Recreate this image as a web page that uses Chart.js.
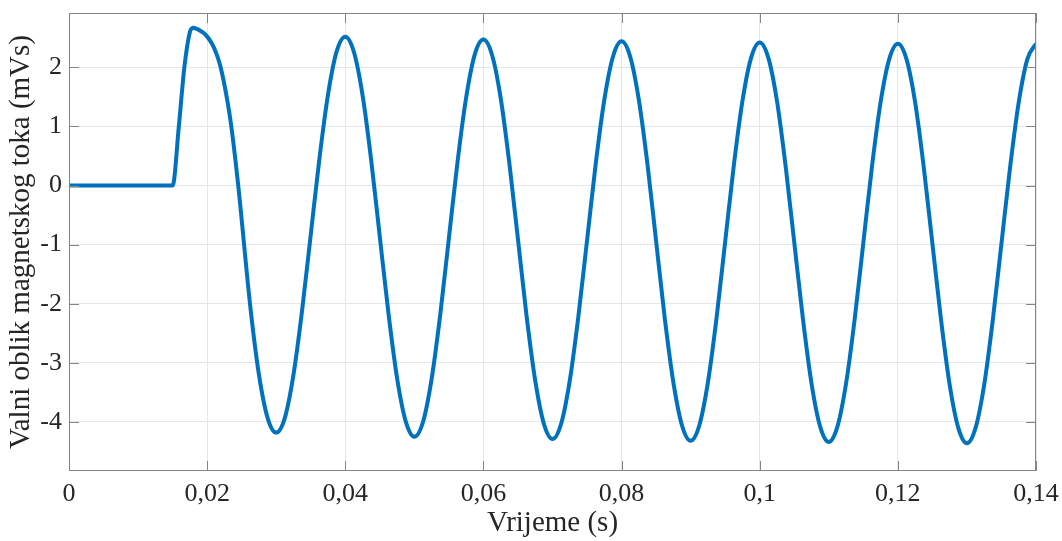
<!DOCTYPE html>
<html>
<head>
<meta charset="utf-8">
<title>Valni oblik magnetskog toka</title>
<script src="https://cdn.jsdelivr.net/npm/chart.js@4.4.0/dist/chart.umd.min.js"></script>
<style>
body { margin: 0; background: #ffffff; }
</style>
</head>
<body>
<canvas id="chart_flux" width="1062" height="541"></canvas>
<script>
// vrijeme u sekundama, tok u mVs (očitano sa slike)
const vrijeme = [
    0, 0.015, 0.0159, 0.0167, 0.0175, 0.0178, 0.018, 0.0185, 0.019, 0.0195, 0.02, 0.0205, 0.021, 0.0215, 0.022, 0.02275, 0.0235, 0.0245, 0.02625, 0.0275, 0.02875,
    0.03, 0.03125, 0.0325, 0.03375, 0.035, 0.03625, 0.0375, 0.03875,
    0.04, 0.04125, 0.0425, 0.04375, 0.045, 0.04625, 0.0475, 0.04875,
    0.05, 0.05125, 0.0525, 0.05375, 0.055, 0.05625, 0.0575, 0.05875,
    0.06, 0.06125, 0.0625, 0.06375, 0.065, 0.06625, 0.0675, 0.06875,
    0.07, 0.07125, 0.0725, 0.07375, 0.075, 0.07625, 0.0775, 0.07875,
    0.08, 0.08125, 0.0825, 0.08375, 0.085, 0.08625, 0.0875, 0.08875,
    0.09, 0.09125, 0.0925, 0.09375, 0.095, 0.09625, 0.0975, 0.09875,
    0.1, 0.10125, 0.1025, 0.10375, 0.105, 0.10625, 0.1075, 0.10875,
    0.11, 0.11125, 0.1125, 0.11375, 0.115, 0.11625, 0.1175, 0.11875,
    0.12, 0.12125, 0.1225, 0.12375, 0.125, 0.12625, 0.1275, 0.12875,
    0.13, 0.13125, 0.1325, 0.13375, 0.135, 0.13625, 0.1375, 0.13875,
    0.14
];
const tok = [
    0, 0, 1.0, 2.0, 2.6, 2.66, 2.67, 2.65, 2.62, 2.58, 2.52, 2.44, 2.33, 2.18, 1.98, 1.55, 1.0, 0.0, -2.05, -3.2, -3.93,
    -4.18, -3.93, -3.20, -2.11, -0.83, 0.45, 1.54, 2.27,
    2.52, 2.26, 1.53, 0.43, -0.87, -2.16, -3.26, -3.99,
    -4.25, -4.00, -3.27, -2.18, -0.89, 0.40, 1.49, 2.22,
    2.47, 2.21, 1.48, 0.38, -0.91, -2.21, -3.30, -4.03,
    -4.29, -4.03, -3.30, -2.21, -0.93, 0.36, 1.45, 2.18,
    2.44, 2.18, 1.45, 0.36, -0.94, -2.24, -3.33, -4.06,
    -4.32, -4.06, -3.33, -2.24, -0.95, 0.34, 1.43, 2.16,
    2.42, 2.16, 1.43, 0.33, -0.96, -2.25, -3.35, -4.08,
    -4.34, -4.08, -3.35, -2.26, -0.97, 0.32, 1.41, 2.14,
    2.40, 2.14, 1.41, 0.31, -0.98, -2.27, -3.37, -4.10,
    -4.36, -4.10, -3.37, -2.27, -0.98, 0.31, 1.41, 2.14,
    2.40
];
const xTicks = [0, 0.02, 0.04, 0.06, 0.08, 0.1, 0.12, 0.14];
const xTickLabels = ['0', '0,02', '0,04', '0,06', '0,08', '0,1', '0,12', '0,14'];
const yTicks = [-4, -3, -2, -1, 0, 1, 2];
const yTickLabels = ['-4', '-3', '-2', '-1', '0', '1', '2'];

const axisColor = '#858585';
const textColor = '#262626';
const fontFamily = "'Liberation Serif', 'Times New Roman', serif";

// okvir i unutarnje crtice kao u MATLAB-u
const boxPlugin = {
    id: 'box',
    afterDraw(chart) {
        const a = chart.chartArea;
        const c = chart.ctx;
        const sx = chart.scales.x;
        const sy = chart.scales.y;
        const len = 10;
        c.save();
        c.strokeStyle = axisColor;
        c.lineWidth = 1;
        c.strokeRect(a.left + 0.5, a.top + 0.5, a.right - a.left - 1, a.bottom - a.top - 1);
        c.beginPath();
        xTicks.forEach(function (v) {
            const px = Math.round(sx.getPixelForValue(v)) + 0.5;
            c.moveTo(px, a.bottom);
            c.lineTo(px, a.bottom - len);
            c.moveTo(px, a.top);
            c.lineTo(px, a.top + len);
        });
        yTicks.forEach(function (v) {
            const py = Math.round(sy.getPixelForValue(v)) + 0.5;
            c.moveTo(a.left, py);
            c.lineTo(a.left + len, py);
            c.moveTo(a.right, py);
            c.lineTo(a.right - len, py);
        });
        c.stroke();
        c.restore();
    }
};

const ctx = document.getElementById('chart_flux');
new Chart(ctx, {
    type: 'line',
    data: {
        datasets: [{
            label: 'Tok',
            data: vrijeme.map(function (t, i) { return { x: t, y: tok[i] }; }),
            borderColor: '#0072BD',
            borderWidth: 4,
            pointRadius: 0,
            cubicInterpolationMode: 'monotone',
            fill: false,
            clip: 0
        }]
    },
    options: {
        responsive: false,
        animation: false,
        layout: {
            padding: { top: 13, right: 26, left: 0, bottom: 0 }
        },
        plugins: {
            legend: { display: false },
            tooltip: { enabled: false }
        },
        scales: {
            x: {
                type: 'linear',
                min: 0,
                max: 0.14,
                afterBuildTicks: function (s) { s.ticks = xTicks.map(function (v) { return { value: v }; }); },
                afterFit: function (s) {
                    s.height = 70;
                    s.paddingLeft = 0;
                    s.paddingRight = 0;
                },
                grid: { color: '#e6e6e6', drawTicks: false },
                border: { display: false },
                ticks: {
                    padding: 8,
                    color: textColor,
                    font: { family: fontFamily, size: 26 },
                    maxRotation: 0,
                    autoSkip: false,
                    callback: function (v, i) { return xTickLabels[i]; }
                },
                title: {
                    display: true,
                    text: 'Vrijeme (s)',
                    color: textColor,
                    font: { family: fontFamily, size: 29 },
                    padding: 0
                }
            },
            y: {
                type: 'linear',
                min: -4.83,
                max: 2.92,
                afterBuildTicks: function (s) { s.ticks = yTicks.map(function (v) { return { value: v }; }); },
                afterFit: function (s) {
                    s.width = 69;
                    s.paddingTop = 0;
                    s.paddingBottom = 0;
                },
                grid: { color: '#e6e6e6', drawTicks: false },
                border: { display: false },
                ticks: {
                    padding: 7,
                    color: textColor,
                    font: { family: fontFamily, size: 26 },
                    autoSkip: false,
                    callback: function (v, i) { return yTickLabels[i]; }
                },
                title: {
                    display: true,
                    text: 'Valni oblik magnetskog toka (mVs)',
                    color: textColor,
                    font: { family: fontFamily, size: 29 },
                    padding: { top: 4, bottom: 0 }
                }
            }
        }
    },
    plugins: [boxPlugin]
});
</script>
</body>
</html>
